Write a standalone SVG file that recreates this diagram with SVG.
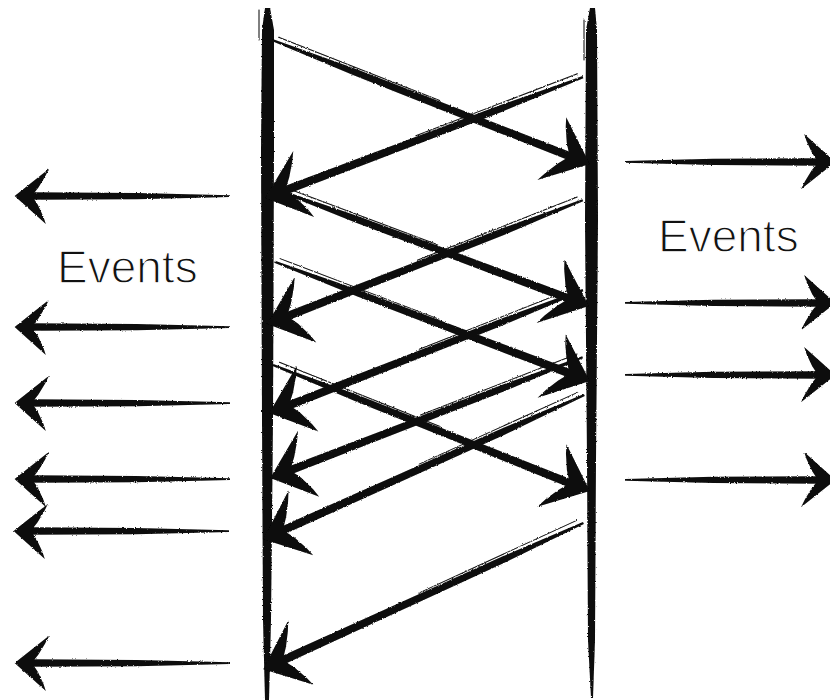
<svg xmlns="http://www.w3.org/2000/svg" xmlns:xlink="http://www.w3.org/1999/xlink" width="830" height="700" viewBox="0 0 830 700">
  <style>
    .ink { fill: #0a0a0a; }
    .hair { stroke: #0a0a0a; stroke-width: 1; fill: none; stroke-linecap: round; }
    .label { font-family: "Liberation Sans", Arial, sans-serif; font-size: 46px; fill: #111; stroke: #ffffff; stroke-width: 1.3; }
  </style>
  <defs>
    <filter id="rough" x="-5%" y="-5%" width="110%" height="110%">
      <feTurbulence type="fractalNoise" baseFrequency="0.8" numOctaves="2" seed="4" result="n"/>
      <feDisplacementMap in="SourceGraphic" in2="n" scale="2.4" xChannelSelector="R" yChannelSelector="G"/>
    </filter>
    <path id="head" class="ink" d="M3,0 L-36,-35 L-33,-26 L-26,-11 L-20,-2 L-19,0 L-20,2 L-27,11 L-35,24 L-40,34 Z"/>
  </defs>
  <rect width="830" height="700" fill="#ffffff"/>

  <g id="lifeline-left" filter="url(#rough)">
    <polygon class="ink" points="265,8 270,8 274,30 274,150 273,420 271,620 269,700 265,700 263,620 262,420 261,150 262,30"/>
    <line class="hair" x1="259" y1="10" x2="259" y2="40"/>
  </g>
  <g id="lifeline-right" filter="url(#rough)">
    <polygon class="ink" points="590,8 595,8 597,30 598,220 596,460 595,640 593,698 591,698 588,640 587,460 585,220 586,30"/>
    <line class="hair" x1="584" y1="20" x2="584" y2="60"/>
  </g>

  <g id="label-left">
    <text class="label" x="57" y="283">Events</text>
  </g>
  <g id="label-right">
    <text class="label" x="658" y="252">Events</text>
  </g>

  <g id="connectors" filter="url(#rough)">
    <!-- left to right messages -->
    <g transform="translate(587,163) rotate(21.33)">
      <polygon class="ink" points="-338,-1.2 -250,-3.6 -14,-4.2 -14,4.2 -250,3.2 -338,1"/>
      <line class="hair" x1="-333" y1="-5" x2="-160" y2="-4.6"/>
      <use xlink:href="#head"/>
    </g>
    <g transform="translate(586,305) rotate(20.44)">
      <polygon class="ink" points="-335,-1.2 -245,-3.6 -14,-4.2 -14,4.2 -245,3.2 -335,1"/>
      <line class="hair" x1="-330" y1="-5" x2="-160" y2="-4.6"/>
      <use xlink:href="#head"/>
    </g>
    <g transform="translate(587,380) rotate(20.71)">
      <polygon class="ink" points="-334,-1.2 -245,-3.6 -14,-4.2 -14,4.2 -245,3.2 -334,1"/>
      <line class="hair" x1="-330" y1="-5" x2="-160" y2="-4.6"/>
      <use xlink:href="#head"/>
    </g>
    <g transform="translate(587,490) rotate(21.70)">
      <polygon class="ink" points="-338,-1.2 -250,-3.6 -14,-4.2 -14,4.2 -250,3.2 -338,1"/>
      <line class="hair" x1="-333" y1="-5" x2="-160" y2="-4.6"/>
      <use xlink:href="#head"/>
    </g>

    <!-- right to left messages -->
    <g transform="translate(268,197) rotate(159.15)">
      <polygon class="ink" points="-337,-1.2 -250,-3.6 -14,-4.2 -14,4.2 -250,3.2 -337,1"/>
      <line class="hair" x1="-333" y1="5" x2="-160" y2="4.6"/>
      <use xlink:href="#head"/>
    </g>
    <g transform="translate(270,323) rotate(158.55)">
      <polygon class="ink" points="-336,-1.2 -250,-3.6 -14,-4.2 -14,4.2 -250,3.2 -336,1"/>
      <line class="hair" x1="-332" y1="5" x2="-160" y2="4.6"/>
      <use xlink:href="#head"/>
    </g>
    <g transform="translate(272,412) rotate(158.58)">
      <polygon class="ink" points="-334,-1.2 -250,-3.6 -14,-4.2 -14,4.2 -250,3.2 -334,1"/>
      <line class="hair" x1="-330" y1="5" x2="-160" y2="4.6"/>
      <use xlink:href="#head"/>
    </g>
    <g transform="translate(273,477) rotate(158.84)">
      <polygon class="ink" points="-332,-1.2 -250,-3.6 -14,-4.2 -14,4.2 -250,3.2 -332,1"/>
      <line class="hair" x1="-328" y1="5" x2="-160" y2="4.6"/>
      <use xlink:href="#head"/>
    </g>
    <g transform="translate(266,538) rotate(155.79)">
      <polygon class="ink" points="-349,-1.2 -260,-3.6 -14,-4.2 -14,4.2 -260,3.2 -349,1"/>
      <line class="hair" x1="-344" y1="5" x2="-170" y2="4.6"/>
      <use xlink:href="#head"/>
    </g>
    <g transform="translate(266,668) rotate(155.42)">
      <polygon class="ink" points="-349,-1.2 -260,-3.6 -14,-4.2 -14,4.2 -260,3.2 -349,1"/>
      <line class="hair" x1="-344" y1="5" x2="-170" y2="4.6"/>
      <use xlink:href="#head"/>
    </g>

    <!-- outgoing events, left -->
    <g transform="translate(17,196) rotate(180)">
      <polygon class="ink" points="-213,-1 -120,-3.2 -12,-3.8 -12,3.8 -120,3 -213,0.8"/>
      <use xlink:href="#head" transform="scale(0.8)"/>
    </g>
    <g transform="translate(17,327) rotate(180)">
      <polygon class="ink" points="-213,-1 -120,-3.2 -12,-3.8 -12,3.8 -120,3 -213,0.8"/>
      <use xlink:href="#head" transform="scale(0.8)"/>
    </g>
    <g transform="translate(17,403) rotate(180)">
      <polygon class="ink" points="-213,-1 -120,-3.2 -12,-3.8 -12,3.8 -120,3 -213,0.8"/>
      <use xlink:href="#head" transform="scale(0.8)"/>
    </g>
    <g transform="translate(17,479) rotate(180)">
      <polygon class="ink" points="-213,-1 -120,-3.2 -12,-3.8 -12,3.8 -120,3 -213,0.8"/>
      <use xlink:href="#head" transform="scale(0.8)"/>
    </g>
    <g transform="translate(16,531) rotate(180)">
      <polygon class="ink" points="-213,-1 -120,-3.2 -12,-3.8 -12,3.8 -120,3 -213,0.8"/>
      <use xlink:href="#head" transform="scale(0.8)"/>
    </g>
    <g transform="translate(17,663) rotate(180)">
      <polygon class="ink" points="-213,-1 -120,-3.2 -12,-3.8 -12,3.8 -120,3 -213,0.8"/>
      <use xlink:href="#head" transform="scale(0.8)"/>
    </g>

    <!-- outgoing events, right -->
    <g transform="translate(833,162)">
      <polygon class="ink" points="-208,-1 -120,-3.2 -12,-3.8 -12,3.8 -120,3 -208,0.8"/>
      <use xlink:href="#head" transform="scale(0.8)"/>
    </g>
    <g transform="translate(833,303)">
      <polygon class="ink" points="-208,-1 -120,-3.2 -12,-3.8 -12,3.8 -120,3 -208,0.8"/>
      <use xlink:href="#head" transform="scale(0.8)"/>
    </g>
    <g transform="translate(833,375)">
      <polygon class="ink" points="-208,-1 -120,-3.2 -12,-3.8 -12,3.8 -120,3 -208,0.8"/>
      <use xlink:href="#head" transform="scale(0.8)"/>
    </g>
    <g transform="translate(833,480)">
      <polygon class="ink" points="-208,-1 -120,-3.2 -12,-3.8 -12,3.8 -120,3 -208,0.8"/>
      <use xlink:href="#head" transform="scale(0.8)"/>
    </g>
  </g>
</svg>
